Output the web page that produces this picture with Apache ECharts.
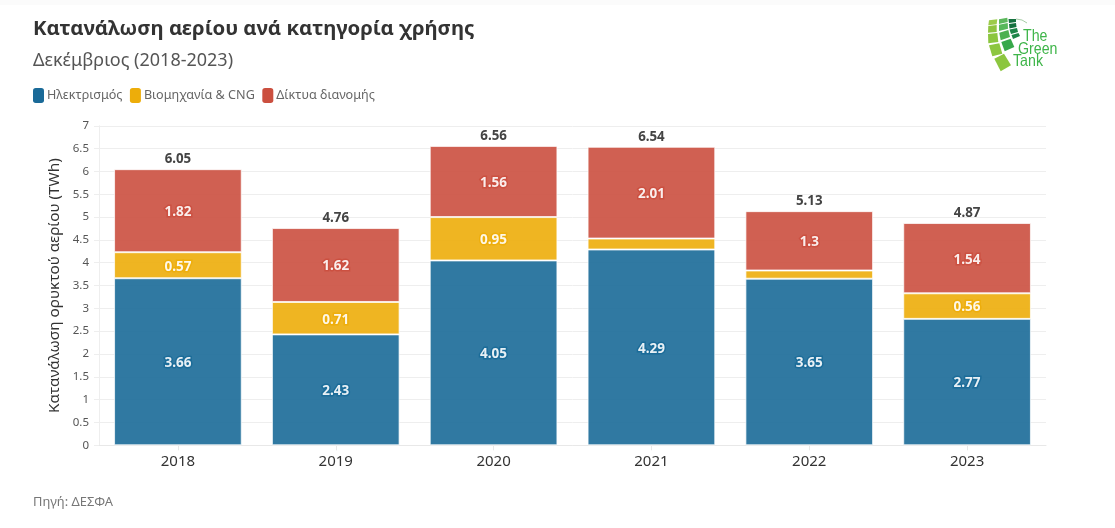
<!DOCTYPE html>
<html><head><meta charset="utf-8">
<style>html,body{margin:0;padding:0;background:#fff}#c{width:1115px;height:528px}</style>
<script src="https://cdn.jsdelivr.net/npm/echarts@6/dist/echarts.min.js"></script>
</head><body><div id="c"></div>
<script>
const years=['2018','2019','2020','2021','2022','2023'];
const electricity=[3.66,2.43,4.05,4.29,3.65,2.77];
const industry=[0.57,0.71,0.95,0.24,0.18,0.56];
const networks=[1.82,1.62,1.56,2.01,1.3,1.54];
const totals=[6.05,4.76,6.56,6.54,5.13,4.87];
const yTicks=[0,0.5,1,1.5,2,2.5,3,3.5,4,4.5,5,5.5,6,6.5,7];
const FONT='"Noto Sans","Open Sans",sans-serif';
const LOGOFONT='"Liberation Sans",sans-serif';
const chart=echarts.init(document.getElementById('c'),null,{renderer:'canvas'});
function bar(name,data,color,halo){
  return {name,type:'bar',stack:'a',data,barWidth:'80.9%',
    itemStyle:{color,opacity:0.9,borderColor:'rgba(255,255,255,0.8)',borderWidth:1},
    emphasis:{disabled:true},
    label:{show:true,position:'inside',offset:[0,1.5],fontFamily:FONT,fontSize:13.5,fontWeight:'bold',color:'#fff',
      textBorderColor:halo,textBorderWidth:3,
      formatter:p=>p.value<0.3?'':String(p.value)}};
}
function poly(points,fill){return {type:'polygon',shape:{points},style:{fill},silent:true};}
function logoText(text,x,y){return {type:'text',x,y,scaleX:0.86,silent:true,style:{text,x:0,y:0,fontFamily:LOGOFONT,fontSize:16.5,fill:'#3fb54a'}};}
chart.setOption({
  animation:false,
  backgroundColor:'#fff',
  textStyle:{fontFamily:FONT},
  title:[
    {text:'Κατανάλωση αερίου ανά κατηγορία χρήσης',left:33,top:19,padding:0,textStyle:{fontFamily:FONT,fontSize:20.35,fontWeight:'bold',color:'#333'}},
    {text:'Δεκέμβριος (2018-2023)',left:33,top:52,padding:0,textStyle:{fontFamily:FONT,fontSize:18,fontWeight:'normal',color:'#555'}},
    {text:'Πηγή: ΔΕΣΦΑ',left:33,top:496,padding:0,textStyle:{fontFamily:FONT,fontSize:12.9,fontWeight:'normal',color:'#777'}}
  ],
  legend:{left:33,top:88,padding:0,itemWidth:11,itemHeight:15,itemGap:7.5,
    data:['Ηλεκτρισμός','Βιομηχανία & CNG','Δίκτυα διανομής'],
    textStyle:{fontFamily:FONT,fontSize:12.6,color:'#666',padding:[5,0,0,-2]},
    itemStyle:{borderWidth:0,opacity:1},selectedMode:false},
  color:['#1a6a98','#edad0a','#cb4f3f'],
  grid:{left:99,right:69,top:125.8,height:319.5},
  xAxis:{type:'category',data:years,
    axisLine:{lineStyle:{color:'#e8e8e8'}},
    axisTick:{show:true,alignWithLabel:true,length:5,lineStyle:{color:'#e8e8e8'}},
    axisLabel:{interval:0,fontFamily:FONT,fontSize:15,color:'#333',margin:9}},
  yAxis:{type:'value',min:0,max:7,interval:0.5,
    name:'Κατανάλωση ορυκτού αερίου (TWh)',nameLocation:'middle',nameGap:36,
    nameTextStyle:{fontFamily:FONT,fontSize:15.3,color:'#333'},
    axisLine:{show:true,lineStyle:{color:'#eee'}},
    axisTick:{show:true,length:5,lineStyle:{color:'#eee'}},
    splitLine:{lineStyle:{color:'#eee'}},
    axisLabel:{fontFamily:FONT,fontSize:11.5,color:'#555',margin:10,padding:[4,0,0,0],
      formatter:v=>yTicks.includes(v)?String(v):''}},
  series:[
    bar('Ηλεκτρισμός',electricity,'#1a6a98','#1a6a98'),
    bar('Βιομηχανία & CNG',industry,'#edad0a','#edad0a'),
    bar('Δίκτυα διανομής',networks,'#cb4f3f','#cb4f3f'),
    {name:'Σύνολο',type:'line',data:totals,symbol:'circle',symbolSize:2,showSymbol:true,
      itemStyle:{color:'transparent'},lineStyle:{color:'transparent'},silent:true,z:5,
      label:{show:true,position:'top',distance:2,fontFamily:FONT,fontSize:13.3,fontWeight:'bold',color:'#444'}}
  ],
  graphic:[
    {type:'rect',shape:{x:0,y:0,width:1115,height:5},style:{fill:'#fbfbfb'},silent:true},
    poly([[989,20.3],[997.3,19.3],[996.7,24.3],[988.3,25.3]],'#9ccb4a'),
    poly([[988.3,26],[996.7,25],[996.7,32],[988,32.7]],'#8fc440'),
    poly([[988,34],[997.3,33],[998.3,42],[988.3,43.3]],'#8cc63f'),
    poly([[989,45.3],[999.3,43.3],[1002.3,53.7],[992.3,56.3]],'#8cc63f'),
    poly([[994.3,58.7],[1004,53.7],[1011,65.3],[1000.7,71.3]],'#8cc63f'),
    poly([[999,19.3],[1007.3,17.7],[1007.7,22],[999,24]],'#5cb85c'),
    poly([[999,24.7],[1007.7,23],[1008,28.7],[999,31]],'#56b85a'),
    poly([[999.3,32.7],[1008.3,30],[1010,37],[1000.7,40.3]],'#4cb050'),
    poly([[1001.3,42],[1010.7,38.7],[1014.3,47],[1004.7,51.3]],'#37a84a'),
    poly([[1008.5,19],[1016,19],[1016,22],[1009,23]],'#15713f'),
    poly([[1009,24],[1016,23],[1016.5,27],[1009.5,28.5]],'#15713f'),
    poly([[1009.5,29.5],[1017,28],[1018,32],[1011,34]],'#1d8548'),
    poly([[1011.5,35],[1018.5,33],[1020,36],[1013,39]],'#1d8548'),
    {type:'polyline',shape:{points:[[1016,19],[1022,20],[1027,23]]},style:{stroke:'#8fbf8f',lineWidth:0.8,fill:null},silent:true},
    logoText('The',1023,28),
    logoText('Green',1018,41),
    logoText('Tank',1013,53)
  ]
});
</script></body></html>
